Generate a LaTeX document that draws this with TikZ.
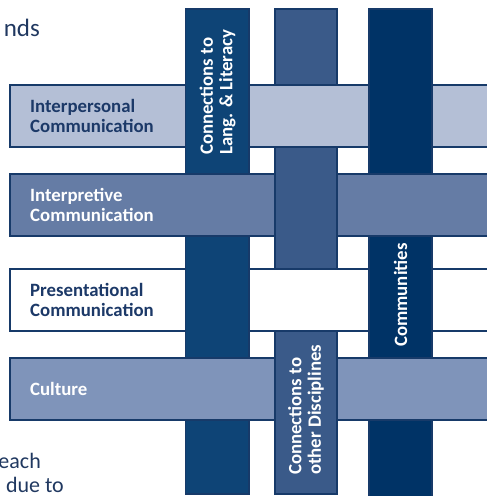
\documentclass[tikz,border=0pt]{standalone}
\usepackage{fontspec}
\setmainfont{Carlito}
\definecolor{edgeblue}{RGB}{23,58,105}
\definecolor{lightband}{RGB}{180,191,214}
\definecolor{midband}{RGB}{101,124,165}
\definecolor{cultband}{RGB}{127,148,186}
\definecolor{langbar}{RGB}{14,68,118}
\definecolor{discbar}{RGB}{58,90,137}
\definecolor{commbar}{RGB}{0,51,102}
\definecolor{darktext}{RGB}{28,57,104}
\definecolor{pagetext}{RGB}{32,56,96}
\begin{document}
\begin{tikzpicture}[x=1pt,y=-1pt,
  band/.style={draw=edgeblue,line width=1.8pt},
  edge/.style={draw=edgeblue,line width=1.8pt},
  strand/.style={font=\bfseries\fontsize{18.8}{19.5}\selectfont,inner sep=0pt,align=left},
  pagetxt/.style={font=\fontsize{22}{26}\selectfont,text=pagetext,inner sep=0pt}]
\useasboundingbox (0,0) rectangle (487,496);
\clip (0,0) rectangle (487,496);

% page text cut off by the figure
\node[pagetxt,anchor=base east,font=\fontsize{25}{26}\selectfont] (top) at (40,36) {nds};
\node[pagetxt,anchor=base east] (each) at (41,468) {each};
\node[pagetxt,anchor=base east] (due) at (64,492) {due to};

% horizontal strands
\path[band,fill=lightband] (10,85) rectangle (500,147);
\path[band,fill=midband] (10,174) rectangle (500,236);
\path[band,fill=white] (10,269) rectangle (500,331);
\path[band,fill=cultband] (10,358) rectangle (500,420);

% vertical strands
\path[band,fill=langbar] (185.5,9) rectangle (249,494);
\path[band,fill=discbar] (275,9) rectangle (337,494);
\path[band,fill=commbar] (369,9) rectangle (432,505);

% horizontal strands passing over
\fill[lightband] (274,85.5) rectangle (338.5,146.5);
\draw[edge] (274,85) -- (338.5,85) (274,147) -- (338.5,147);

\fill[midband] (184.5,174.5) rectangle (250,235.5);
\draw[edge] (184.5,174) -- (250,174) (184.5,236) -- (250,236);
\fill[midband] (368,174.5) rectangle (433,235.5);
\draw[edge] (368,174) -- (433,174) (368,236) -- (433,236);

\fill[white] (274,269.5) rectangle (338.5,330.5);
\draw[edge] (274,269) -- (338.5,269) (274,331) -- (338.5,331);

\fill[cultband] (184.5,358.5) rectangle (250,419.5);
\draw[edge] (184.5,358) -- (250,358) (184.5,420) -- (250,420);
\fill[cultband] (368,358.5) rectangle (433,419.5);
\draw[edge] (368,358) -- (433,358) (368,420) -- (433,420);

% labels
\node[strand,text=darktext,anchor=west] (interp) at (30,116) {Interpersonal\\Communication};
\node[strand,text=white,anchor=west] (interpr) at (30,205) {Interpretive\\Communication};
\node[strand,text=darktext,anchor=west] (pres) at (30,300) {Presentational\\Communication};
\node[strand,text=white,anchor=west] (cult) at (30,389) {Culture};

\node[strand,text=white,rotate=90,anchor=west] (lang) at (217.5,155) {Connections to\\Lang. \& Literacy};
\node[strand,text=white,rotate=90,anchor=west] (disc) at (306,475) {Connections to\\other Disciplines};
\node[strand,text=white,rotate=90,anchor=west] (comm) at (400.5,347) {Communities};
\end{tikzpicture}
\end{document}
